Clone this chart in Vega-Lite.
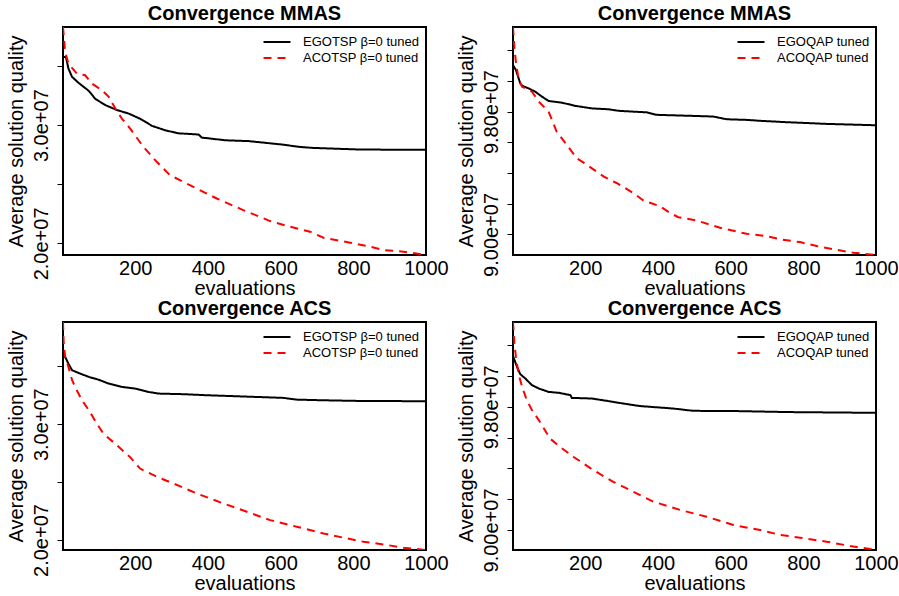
{
  "$schema": "https://vega.github.io/schema/vega-lite/v6.json",
  "padding": {"left": 5, "top": 3, "right": 5, "bottom": 3},
  "background": "#ffffff",
  "datasets": {
    "p1": [
      {"series": "EGOTSP β=0 tuned", "x": 1, "y": 35770000}, {"series": "EGOTSP β=0 tuned", "x": 9, "y": 35770000}, {"series": "EGOTSP β=0 tuned", "x": 16, "y": 34780000}, {"series": "EGOTSP β=0 tuned", "x": 26, "y": 34080000}, {"series": "EGOTSP β=0 tuned", "x": 44, "y": 33570000}, {"series": "EGOTSP β=0 tuned", "x": 72, "y": 32900000}, {"series": "EGOTSP β=0 tuned", "x": 90, "y": 32220000}, {"series": "EGOTSP β=0 tuned", "x": 118, "y": 31690000}, {"series": "EGOTSP β=0 tuned", "x": 150, "y": 31270000}, {"series": "EGOTSP β=0 tuned", "x": 182, "y": 30980000}, {"series": "EGOTSP β=0 tuned", "x": 214, "y": 30530000}, {"series": "EGOTSP β=0 tuned", "x": 246, "y": 29940000}, {"series": "EGOTSP β=0 tuned", "x": 283, "y": 29560000}, {"series": "EGOTSP β=0 tuned", "x": 319, "y": 29310000}, {"series": "EGOTSP β=0 tuned", "x": 374, "y": 29210000}, {"series": "EGOTSP β=0 tuned", "x": 383, "y": 28950000}, {"series": "EGOTSP β=0 tuned", "x": 448, "y": 28720000}, {"series": "EGOTSP β=0 tuned", "x": 512, "y": 28650000}, {"series": "EGOTSP β=0 tuned", "x": 604, "y": 28360000}, {"series": "EGOTSP β=0 tuned", "x": 650, "y": 28170000}, {"series": "EGOTSP β=0 tuned", "x": 686, "y": 28080000}, {"series": "EGOTSP β=0 tuned", "x": 741, "y": 28020000}, {"series": "EGOTSP β=0 tuned", "x": 818, "y": 27940000}, {"series": "EGOTSP β=0 tuned", "x": 1000, "y": 27910000},
      {"series": "ACOTSP β=0 tuned", "x": 1, "y": 38300000}, {"series": "ACOTSP β=0 tuned", "x": 7, "y": 36190000}, {"series": "ACOTSP β=0 tuned", "x": 16, "y": 35200000}, {"series": "ACOTSP β=0 tuned", "x": 39, "y": 34360000}, {"series": "ACOTSP β=0 tuned", "x": 62, "y": 34220000}, {"series": "ACOTSP β=0 tuned", "x": 81, "y": 33510000}, {"series": "ACOTSP β=0 tuned", "x": 108, "y": 32960000}, {"series": "ACOTSP β=0 tuned", "x": 127, "y": 32390000}, {"series": "ACOTSP β=0 tuned", "x": 145, "y": 31400000}, {"series": "ACOTSP β=0 tuned", "x": 163, "y": 30560000}, {"series": "ACOTSP β=0 tuned", "x": 186, "y": 29710000}, {"series": "ACOTSP β=0 tuned", "x": 222, "y": 28170000}, {"series": "ACOTSP β=0 tuned", "x": 259, "y": 26900000}, {"series": "ACOTSP β=0 tuned", "x": 295, "y": 25780000}, {"series": "ACOTSP β=0 tuned", "x": 350, "y": 24930000}, {"series": "ACOTSP β=0 tuned", "x": 424, "y": 23800000}, {"series": "ACOTSP β=0 tuned", "x": 497, "y": 22820000}, {"series": "ACOTSP β=0 tuned", "x": 571, "y": 21890000}, {"series": "ACOTSP β=0 tuned", "x": 626, "y": 21410000}, {"series": "ACOTSP β=0 tuned", "x": 681, "y": 20990000}, {"series": "ACOTSP β=0 tuned", "x": 718, "y": 20480000}, {"series": "ACOTSP β=0 tuned", "x": 791, "y": 20060000}, {"series": "ACOTSP β=0 tuned", "x": 846, "y": 19720000}, {"series": "ACOTSP β=0 tuned", "x": 883, "y": 19440000}, {"series": "ACOTSP β=0 tuned", "x": 938, "y": 19300000}, {"series": "ACOTSP β=0 tuned", "x": 1000, "y": 19020000}
    ],
    "p2": [
      {"series": "EGOQAP tuned", "x": 1, "y": 101030000}, {"series": "EGOQAP tuned", "x": 9, "y": 100710000}, {"series": "EGOQAP tuned", "x": 21, "y": 99840000}, {"series": "EGOQAP tuned", "x": 26, "y": 99690000}, {"series": "EGOQAP tuned", "x": 44, "y": 99510000}, {"series": "EGOQAP tuned", "x": 62, "y": 99300000}, {"series": "EGOQAP tuned", "x": 81, "y": 98970000}, {"series": "EGOQAP tuned", "x": 99, "y": 98690000}, {"series": "EGOQAP tuned", "x": 136, "y": 98580000}, {"series": "EGOQAP tuned", "x": 173, "y": 98370000}, {"series": "EGOQAP tuned", "x": 218, "y": 98210000}, {"series": "EGOQAP tuned", "x": 264, "y": 98150000}, {"series": "EGOQAP tuned", "x": 292, "y": 98050000}, {"series": "EGOQAP tuned", "x": 369, "y": 97950000}, {"series": "EGOQAP tuned", "x": 396, "y": 97790000}, {"series": "EGOQAP tuned", "x": 497, "y": 97720000}, {"series": "EGOQAP tuned", "x": 552, "y": 97680000}, {"series": "EGOQAP tuned", "x": 589, "y": 97500000}, {"series": "EGOQAP tuned", "x": 644, "y": 97460000}, {"series": "EGOQAP tuned", "x": 681, "y": 97400000}, {"series": "EGOQAP tuned", "x": 754, "y": 97310000}, {"series": "EGOQAP tuned", "x": 864, "y": 97200000}, {"series": "EGOQAP tuned", "x": 1000, "y": 97110000},
      {"series": "ACOQAP tuned", "x": 1, "y": 103510000}, {"series": "ACOQAP tuned", "x": 5, "y": 102110000}, {"series": "ACOQAP tuned", "x": 9, "y": 101240000}, {"series": "ACOQAP tuned", "x": 16, "y": 100160000}, {"series": "ACOQAP tuned", "x": 26, "y": 99620000}, {"series": "ACOQAP tuned", "x": 53, "y": 99300000}, {"series": "ACOQAP tuned", "x": 72, "y": 98650000}, {"series": "ACOQAP tuned", "x": 99, "y": 98000000}, {"series": "ACOQAP tuned", "x": 121, "y": 96700000}, {"series": "ACOQAP tuned", "x": 149, "y": 95840000}, {"series": "ACOQAP tuned", "x": 176, "y": 94970000}, {"series": "ACOQAP tuned", "x": 204, "y": 94540000}, {"series": "ACOQAP tuned", "x": 250, "y": 93780000}, {"series": "ACOQAP tuned", "x": 286, "y": 93350000}, {"series": "ACOQAP tuned", "x": 332, "y": 92700000}, {"series": "ACOQAP tuned", "x": 360, "y": 92210000}, {"series": "ACOQAP tuned", "x": 405, "y": 91840000}, {"series": "ACOQAP tuned", "x": 433, "y": 91400000}, {"series": "ACOQAP tuned", "x": 456, "y": 91120000}, {"series": "ACOQAP tuned", "x": 506, "y": 90910000}, {"series": "ACOQAP tuned", "x": 571, "y": 90430000}, {"series": "ACOQAP tuned", "x": 644, "y": 90040000}, {"series": "ACOQAP tuned", "x": 699, "y": 89890000}, {"series": "ACOQAP tuned", "x": 736, "y": 89680000}, {"series": "ACOQAP tuned", "x": 791, "y": 89500000}, {"series": "ACOQAP tuned", "x": 837, "y": 89240000}, {"series": "ACOQAP tuned", "x": 883, "y": 89030000}, {"series": "ACOQAP tuned", "x": 938, "y": 88810000}, {"series": "ACOQAP tuned", "x": 1000, "y": 88660000}
    ],
    "p3": [
      {"series": "EGOTSP β=0 tuned", "x": 1, "y": 35800000}, {"series": "EGOTSP β=0 tuned", "x": 7, "y": 35800000}, {"series": "EGOTSP β=0 tuned", "x": 16, "y": 35220000}, {"series": "EGOTSP β=0 tuned", "x": 26, "y": 34660000}, {"series": "EGOTSP β=0 tuned", "x": 44, "y": 34420000}, {"series": "EGOTSP β=0 tuned", "x": 72, "y": 34080000}, {"series": "EGOTSP β=0 tuned", "x": 99, "y": 33840000}, {"series": "EGOTSP β=0 tuned", "x": 127, "y": 33500000}, {"series": "EGOTSP β=0 tuned", "x": 163, "y": 33220000}, {"series": "EGOTSP β=0 tuned", "x": 200, "y": 33070000}, {"series": "EGOTSP β=0 tuned", "x": 237, "y": 32780000}, {"series": "EGOTSP β=0 tuned", "x": 264, "y": 32640000}, {"series": "EGOTSP β=0 tuned", "x": 332, "y": 32590000}, {"series": "EGOTSP β=0 tuned", "x": 396, "y": 32500000}, {"series": "EGOTSP β=0 tuned", "x": 479, "y": 32410000}, {"series": "EGOTSP β=0 tuned", "x": 608, "y": 32270000}, {"series": "EGOTSP β=0 tuned", "x": 644, "y": 32120000}, {"series": "EGOTSP β=0 tuned", "x": 708, "y": 32070000}, {"series": "EGOTSP β=0 tuned", "x": 809, "y": 32010000}, {"series": "EGOTSP β=0 tuned", "x": 1000, "y": 31980000},
      {"series": "ACOTSP β=0 tuned", "x": 1, "y": 38820000}, {"series": "ACOTSP β=0 tuned", "x": 3, "y": 36950000}, {"series": "ACOTSP β=0 tuned", "x": 7, "y": 35800000}, {"series": "ACOTSP β=0 tuned", "x": 16, "y": 34940000}, {"series": "ACOTSP β=0 tuned", "x": 26, "y": 33790000}, {"series": "ACOTSP β=0 tuned", "x": 39, "y": 32930000}, {"series": "ACOTSP β=0 tuned", "x": 53, "y": 32070000}, {"series": "ACOTSP β=0 tuned", "x": 72, "y": 31210000}, {"series": "ACOTSP β=0 tuned", "x": 94, "y": 30050000}, {"series": "ACOTSP β=0 tuned", "x": 112, "y": 29190000}, {"series": "ACOTSP β=0 tuned", "x": 149, "y": 28190000}, {"series": "ACOTSP β=0 tuned", "x": 185, "y": 27180000}, {"series": "ACOTSP β=0 tuned", "x": 213, "y": 26170000}, {"series": "ACOTSP β=0 tuned", "x": 259, "y": 25460000}, {"series": "ACOTSP β=0 tuned", "x": 305, "y": 24880000}, {"series": "ACOTSP β=0 tuned", "x": 369, "y": 24020000}, {"series": "ACOTSP β=0 tuned", "x": 442, "y": 23160000}, {"series": "ACOTSP β=0 tuned", "x": 507, "y": 22440000}, {"series": "ACOTSP β=0 tuned", "x": 571, "y": 21720000}, {"series": "ACOTSP β=0 tuned", "x": 644, "y": 21150000}, {"series": "ACOTSP β=0 tuned", "x": 718, "y": 20570000}, {"series": "ACOTSP β=0 tuned", "x": 773, "y": 20200000}, {"series": "ACOTSP β=0 tuned", "x": 828, "y": 19850000}, {"series": "ACOTSP β=0 tuned", "x": 883, "y": 19620000}, {"series": "ACOTSP β=0 tuned", "x": 938, "y": 19340000}, {"series": "ACOTSP β=0 tuned", "x": 1000, "y": 19140000}
    ],
    "p4": [
      {"series": "EGOQAP tuned", "x": 1, "y": 101300000}, {"series": "EGOQAP tuned", "x": 12, "y": 100600000}, {"series": "EGOQAP tuned", "x": 21, "y": 100120000}, {"series": "EGOQAP tuned", "x": 35, "y": 99840000}, {"series": "EGOQAP tuned", "x": 53, "y": 99410000}, {"series": "EGOQAP tuned", "x": 72, "y": 99190000}, {"series": "EGOQAP tuned", "x": 99, "y": 98970000}, {"series": "EGOQAP tuned", "x": 127, "y": 98910000}, {"series": "EGOQAP tuned", "x": 159, "y": 98760000}, {"series": "EGOQAP tuned", "x": 163, "y": 98580000}, {"series": "EGOQAP tuned", "x": 218, "y": 98540000}, {"series": "EGOQAP tuned", "x": 264, "y": 98370000}, {"series": "EGOQAP tuned", "x": 292, "y": 98260000}, {"series": "EGOQAP tuned", "x": 350, "y": 98050000}, {"series": "EGOQAP tuned", "x": 442, "y": 97890000}, {"series": "EGOQAP tuned", "x": 497, "y": 97740000}, {"series": "EGOQAP tuned", "x": 626, "y": 97720000}, {"series": "EGOQAP tuned", "x": 754, "y": 97660000}, {"series": "EGOQAP tuned", "x": 1000, "y": 97610000},
      {"series": "ACOQAP tuned", "x": 1, "y": 103510000}, {"series": "ACOQAP tuned", "x": 5, "y": 102110000}, {"series": "ACOQAP tuned", "x": 9, "y": 101240000}, {"series": "ACOQAP tuned", "x": 16, "y": 100160000}, {"series": "ACOQAP tuned", "x": 26, "y": 99300000}, {"series": "ACOQAP tuned", "x": 39, "y": 98430000}, {"series": "ACOQAP tuned", "x": 53, "y": 97790000}, {"series": "ACOQAP tuned", "x": 72, "y": 97140000}, {"series": "ACOQAP tuned", "x": 103, "y": 95940000}, {"series": "ACOQAP tuned", "x": 130, "y": 95400000}, {"series": "ACOQAP tuned", "x": 167, "y": 94760000}, {"series": "ACOQAP tuned", "x": 222, "y": 93890000}, {"series": "ACOQAP tuned", "x": 277, "y": 93130000}, {"series": "ACOQAP tuned", "x": 332, "y": 92490000}, {"series": "ACOQAP tuned", "x": 387, "y": 91840000}, {"series": "ACOQAP tuned", "x": 461, "y": 91300000}, {"series": "ACOQAP tuned", "x": 534, "y": 90860000}, {"series": "ACOQAP tuned", "x": 608, "y": 90320000}, {"series": "ACOQAP tuned", "x": 681, "y": 90000000}, {"series": "ACOQAP tuned", "x": 736, "y": 89680000}, {"series": "ACOQAP tuned", "x": 791, "y": 89500000}, {"series": "ACOQAP tuned", "x": 864, "y": 89240000}, {"series": "ACOQAP tuned", "x": 929, "y": 88960000}, {"series": "ACOQAP tuned", "x": 1000, "y": 88700000}
    ]
  },
  "columns": 2,
  "bounds": "flush",
  "spacing": {"row": 67, "column": 87},
  "concat": [
    {
      "width": 363, "height": 228,
      "title": "Convergence MMAS",
      "data": {"name": "p1"},
      "mark": {"type": "line", "strokeWidth": 2, "clip": true},
      "encoding": {
        "x": {"field": "x", "type": "quantitative", "title": "evaluations", "scale": {"domain": [1, 1000], "nice": false, "zero": false}, "axis": {"values": [200, 400, 600, 800, 1000], "format": "d"}},
        "y": {"field": "y", "type": "quantitative", "title": "Average solution quality", "scale": {"domain": [19020000, 38300000], "nice": false, "zero": false}, "axis": {"values": [20000000, 25000000, 30000000, 35000000], "labelExpr": "datum.value == 20000000 ? '2.0e+07' : datum.value == 30000000 ? '3.0e+07' : ''"}},
        "color": {"field": "series", "type": "nominal", "scale": {"domain": ["EGOTSP β=0 tuned", "ACOTSP β=0 tuned"], "range": ["#000000", "#ff0000"]}, "legend": {"title": " "}},
        "strokeDash": {"field": "series", "type": "nominal", "scale": {"domain": ["EGOTSP β=0 tuned", "ACOTSP β=0 tuned"], "range": [[1, 0], [8, 6]]}, "legend": {"title": " "}}
      }
    },
    {
      "width": 363, "height": 228,
      "title": "Convergence MMAS",
      "data": {"name": "p2"},
      "mark": {"type": "line", "strokeWidth": 2, "clip": true},
      "encoding": {
        "x": {"field": "x", "type": "quantitative", "title": "evaluations", "scale": {"domain": [1, 1000], "nice": false, "zero": false}, "axis": {"values": [200, 400, 600, 800, 1000], "format": "d"}},
        "y": {"field": "y", "type": "quantitative", "title": "Average solution quality", "scale": {"domain": [88660000, 103510000], "nice": false, "zero": false}, "axis": {"values": [90000000, 92000000, 94000000, 96000000, 98000000, 100000000, 102000000], "labelExpr": "datum.value == 90000000 ? '9.00e+07' : datum.value == 98000000 ? '9.80e+07' : ''"}},
        "color": {"field": "series", "type": "nominal", "scale": {"domain": ["EGOQAP tuned", "ACOQAP tuned"], "range": ["#000000", "#ff0000"]}, "legend": {"title": " "}},
        "strokeDash": {"field": "series", "type": "nominal", "scale": {"domain": ["EGOQAP tuned", "ACOQAP tuned"], "range": [[1, 0], [8, 6]]}, "legend": {"title": " "}}
      }
    },
    {
      "width": 363, "height": 228,
      "title": "Convergence ACS",
      "data": {"name": "p3"},
      "mark": {"type": "line", "strokeWidth": 2, "clip": true},
      "encoding": {
        "x": {"field": "x", "type": "quantitative", "title": "evaluations", "scale": {"domain": [1, 1000], "nice": false, "zero": false}, "axis": {"values": [200, 400, 600, 800, 1000], "format": "d"}},
        "y": {"field": "y", "type": "quantitative", "title": "Average solution quality", "scale": {"domain": [19140000, 38820000], "nice": false, "zero": false}, "axis": {"values": [20000000, 25000000, 30000000, 35000000], "labelExpr": "datum.value == 20000000 ? '2.0e+07' : datum.value == 30000000 ? '3.0e+07' : ''"}},
        "color": {"field": "series", "type": "nominal", "scale": {"domain": ["EGOTSP β=0 tuned", "ACOTSP β=0 tuned"], "range": ["#000000", "#ff0000"]}, "legend": {"title": " "}},
        "strokeDash": {"field": "series", "type": "nominal", "scale": {"domain": ["EGOTSP β=0 tuned", "ACOTSP β=0 tuned"], "range": [[1, 0], [8, 6]]}, "legend": {"title": " "}}
      }
    },
    {
      "width": 363, "height": 228,
      "title": "Convergence ACS",
      "data": {"name": "p4"},
      "mark": {"type": "line", "strokeWidth": 2, "clip": true},
      "encoding": {
        "x": {"field": "x", "type": "quantitative", "title": "evaluations", "scale": {"domain": [1, 1000], "nice": false, "zero": false}, "axis": {"values": [200, 400, 600, 800, 1000], "format": "d"}},
        "y": {"field": "y", "type": "quantitative", "title": "Average solution quality", "scale": {"domain": [88700000, 103510000], "nice": false, "zero": false}, "axis": {"values": [90000000, 92000000, 94000000, 96000000, 98000000, 100000000, 102000000], "labelExpr": "datum.value == 90000000 ? '9.00e+07' : datum.value == 98000000 ? '9.80e+07' : ''"}},
        "color": {"field": "series", "type": "nominal", "scale": {"domain": ["EGOQAP tuned", "ACOQAP tuned"], "range": ["#000000", "#ff0000"]}, "legend": {"title": " "}},
        "strokeDash": {"field": "series", "type": "nominal", "scale": {"domain": ["EGOQAP tuned", "ACOQAP tuned"], "range": [[1, 0], [8, 6]]}, "legend": {"title": " "}}
      }
    }
  ],
  "resolve": {
    "scale": {"x": "independent", "y": "independent", "color": "independent", "strokeDash": "independent"},
    "legend": {"color": "independent", "strokeDash": "independent"}
  },
  "config": {
    "font": "Liberation Sans",
    "view": {"stroke": "#000000", "strokeWidth": 2},
    "axis": {"domain": false, "grid": false, "labelFont": "Liberation Sans", "labelFontSize": 20, "labelColor": "#000000", "titleFont": "Liberation Sans", "titleFontSize": 20, "titleFontWeight": "normal", "titleColor": "#000000", "tickColor": "#000000", "tickWidth": 1},
    "axisX": {"ticks": false, "tickSize": 0, "labelPadding": 3, "titlePadding": 0, "labelFlush": false, "labelOverlap": false, "labelBound": false},
    "axisY": {"tickSize": 6, "labelAngle": -90, "labelAlign": "center", "labelBaseline": "bottom", "labelPadding": 6, "titlePadding": 5, "labelOverlap": false, "labelFlush": false},
    "title": {"font": "Liberation Sans", "fontSize": 20, "fontWeight": "bold", "color": "#000000", "anchor": "middle", "offset": 3},
    "legend": {"orient": "top-right", "offset": 6, "padding": 0, "symbolType": "M-2,0L2,0", "symbolSize": 182, "symbolStrokeWidth": 2, "labelFont": "Liberation Sans", "labelFontSize": 13, "labelColor": "#000000", "labelOffset": 18, "rowPadding": 1, "titleFontSize": 1, "titlePadding": 0, "fillColor": null}
  }
}
